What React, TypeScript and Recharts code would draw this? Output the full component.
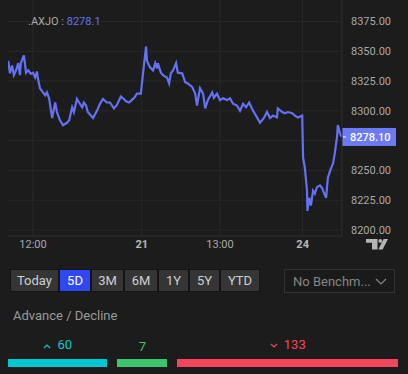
import React from 'react';
import { LineChart, Line, XAxis, YAxis, CartesianGrid, ReferenceLine } from 'recharts';

// trading minutes since the first visible session opened (10:00 on the 20th)
const times = [
  63, 67, 72, 76, 81, 86, 90, 92, 99, 104, 109, 115, 120, 125, 129, 131, 136, 143, 148, 152,
  157, 164, 171, 175, 182, 189, 198, 203, 210, 214, 221, 226, 233, 237, 242, 246, 258, 267, 274, 281,
  290, 297, 306, 313, 322, 327, 334, 341, 350, 355, 359, 368, 373, 375, 380, 382, 389, 396, 401, 405,
  407, 414, 419, 428, 433, 437, 442, 449, 453, 463, 470, 476, 486, 493, 497, 504, 511, 516, 522, 532,
  536, 543, 550, 557, 566, 573, 580, 589, 596, 603, 610, 617, 626, 635, 642, 651, 658, 665, 672, 681,
  683, 693, 699, 706, 716, 722, 729, 739, 741, 745, 750, 751, 755, 759, 764, 768, 773, 780, 785, 787,
  794, 798, 805, 810, 814, 819, 821, 826, 830,
];
const prices = [
  8342, 8331.5, 8338, 8330, 8334, 8340, 8330, 8340, 8346.5, 8332, 8334, 8331, 8332, 8328, 8333, 8328, 8319, 8315.5, 8313, 8315.5,
  8310.5, 8294, 8307, 8299, 8292, 8288, 8290, 8292, 8303, 8299, 8310, 8307, 8303, 8307, 8304.5, 8299, 8294, 8300, 8306, 8310,
  8307, 8307, 8302, 8305, 8312, 8310.5, 8308, 8307, 8310, 8312, 8314.5, 8314.5, 8331.5, 8338, 8354, 8342, 8336.5, 8334, 8340, 8335.5,
  8340, 8332, 8330, 8328, 8323, 8331.5, 8334, 8340, 8332, 8331.5, 8324, 8323, 8320, 8314.5, 8304.5, 8319, 8314.5, 8302, 8309, 8315.5,
  8311, 8314.5, 8309, 8310.5, 8309, 8310.5, 8306, 8304.5, 8300, 8306, 8303, 8307, 8300, 8294.5, 8290, 8294, 8299, 8294, 8296, 8294.5,
  8302, 8299, 8298, 8299, 8298, 8296, 8294.5, 8296, 8261, 8252.5, 8233, 8216, 8227, 8220.5, 8233, 8230.5, 8236, 8237.5, 8235, 8233,
  8227, 8244, 8251.5, 8256, 8264.5, 8278, 8288, 8281, 8278.1,
];

const timeTicks = [120, 370, 550, 740];
const timeLabels = ['12:00', '21', '13:00', '24'];
const dayLabels = ['21', '24'];
const priceTicks = [8200, 8225, 8250, 8275, 8300, 8325, 8350, 8375];

const symbol = '.AXJO';
const lastPrice = 8278.1;

const ranges = ['Today', '5D', '3M', '6M', '1Y', '5Y', 'YTD'];
const rangeWidths = [49, 32, 33, 34, 31, 31, 40];
const activeRange = '5D';

const advances = 60;
const unchanged = 7;
const declines = 133;

const LINE = '#6371f2';
const BG = '#1c1c1c';
const GRID = '#282828';
const TEXT = '#a9a9a9';

const data = times.map((t, i) => ({ t, price: prices[i] }));

const TimeTick = (props: any) => {
  const { x, y, payload } = props;
  const label = timeLabels[timeTicks.indexOf(payload.value)];
  const isDay = dayLabels.includes(label);
  return (
    <text x={x} y={y} dy={8} textAnchor="middle" fontSize={11} fill={isDay ? '#b8b8b8' : TEXT} fontWeight={isDay ? 700 : 400}>
      {label}
    </text>
  );
};

// the last-price tag covers the scale label closest to it
const priceLabel = (v: number) => (Math.abs(v - lastPrice) < 10 ? '' : v.toFixed(2));

const PriceTag = (props: any) => {
  const vb = props.viewBox || {};
  const x = vb.x + vb.width;
  const y = vb.y;
  return (
    <g>
      <rect x={x} y={y - 9} width={54} height={18} fill="#6c7af5" />
      <line x1={x + 1} x2={x + 4} y1={y} y2={y} stroke="#fff" strokeWidth={1} />
      <text x={x + 8} y={y} dy={4} fontSize={11} fill="#fff" fontWeight={500}>
        {lastPrice.toFixed(2)}
      </text>
    </g>
  );
};

const Chevron = ({ color, up }: { color: string; up: boolean }) => (
  <svg width={8} height={6} style={{ marginRight: 6, verticalAlign: 'middle' }}>
    <polyline points={up ? '1,5 4,2 7,5' : '1,1 4,4 7,1'} fill="none" stroke={color} strokeWidth={1.2} />
  </svg>
);

export default function App() {
  return (
    <div
      style={{
        position: 'absolute',
        left: 0,
        top: 0,
        width: 408,
        height: 374,
        background: BG,
        fontFamily: 'Roboto, sans-serif',
        overflow: 'hidden',
      }}
    >
      <div style={{ position: 'absolute', left: 28, top: 15, fontSize: 11, color: TEXT, zIndex: 2 }}>
        {symbol} : <span style={{ color: LINE }}>{lastPrice}</span>
      </div>

      <LineChart width={408} height={260} data={data} margin={{ top: 0, right: 0, left: 8, bottom: 0 }}>
        <CartesianGrid stroke={GRID} horizontalValues={priceTicks} verticalValues={timeTicks} />
        <XAxis
          dataKey="t"
          type="number"
          domain={[62.5, 830.5]}
          ticks={timeTicks}
          tick={<TimeTick />}
          tickSize={0}
          tickMargin={4}
          height={24}
          axisLine={{ stroke: '#2e2e2e' }}
          allowDataOverflow
        />
        <YAxis
          orientation="right"
          type="number"
          domain={[8195, 8393]}
          ticks={priceTicks}
          width={66}
          tickSize={0}
          tickMargin={9}
          tick={{ fontSize: 11, fill: TEXT }}
          tickFormatter={priceLabel}
          axisLine={{ stroke: '#2e2e2e' }}
          allowDataOverflow
        />
        <Line
          type="linear"
          dataKey="price"
          stroke={LINE}
          strokeWidth={2.2}
          dot={false}
          isAnimationActive={false}
        />
        <ReferenceLine y={lastPrice} stroke="none" label={<PriceTag />} />
      </LineChart>

      <svg style={{ position: 'absolute', left: 366, top: 239 }} width={23} height={11}>
        <path d="M0 0 H11.5 V10.5 H6 V3.8 H0 Z" fill="#b5b5b5" />
        <circle cx={14.3} cy={1.9} r={1.9} fill="#b5b5b5" />
        <path d="M17.6 0 H22 L16.6 10.5 H12.3 Z" fill="#b5b5b5" />
      </svg>

      <div style={{ position: 'absolute', left: 10, top: 269, display: 'flex', height: 23 }}>
        {ranges.map((r, i) => (
          <div
            key={r}
            style={{
              width: rangeWidths[i],
              height: 23,
              boxSizing: 'border-box',
              border: '1px solid #141414',
              background: r === activeRange ? '#3047f5' : '#353535',
              color: r === activeRange ? '#ffffff' : '#cfcfcf',
              fontSize: 13,
              display: 'flex',
              alignItems: 'center',
              justifyContent: 'center',
            }}
          >
            {r}
          </div>
        ))}
      </div>

      <div
        style={{
          position: 'absolute',
          left: 284,
          top: 269,
          width: 111,
          height: 24,
          boxSizing: 'border-box',
          border: '1px solid #333',
          background: '#1a1a1a',
          color: '#858585',
          fontSize: 13,
          display: 'flex',
          alignItems: 'center',
          paddingLeft: 8,
        }}
      >
        No Benchm...
        <svg width={12} height={7} style={{ position: 'absolute', left: 90, top: 8 }}>
          <polyline points="1,1 6,6 11,1" fill="none" stroke="#858585" strokeWidth={1.2} />
        </svg>
      </div>

      <div style={{ position: 'absolute', left: 13, top: 308, fontSize: 13, color: '#9a9a9a' }}>Advance / Decline</div>

      <div style={{ position: 'absolute', left: 8, top: 337, width: 390, display: 'flex', gap: 10 }}>
        <div style={{ flex: advances, display: 'flex', flexDirection: 'column', alignItems: 'center' }}>
          <div style={{ color: '#14c8d0', fontSize: 13, height: 18, lineHeight: '16px' }}>
            <Chevron color="#14c8d0" up />
            {advances}
          </div>
          <div style={{ marginTop: 4, width: '100%', height: 8, background: '#00c8d2' }} />
        </div>
        <div style={{ width: 50, display: 'flex', flexDirection: 'column', alignItems: 'center' }}>
          <div style={{ color: '#3cc46e', fontSize: 13, height: 18, lineHeight: '20px' }}>{unchanged}</div>
          <div style={{ marginTop: 4, width: '100%', height: 8, background: '#3cc46e' }} />
        </div>
        <div style={{ flex: declines, display: 'flex', flexDirection: 'column', alignItems: 'center' }}>
          <div style={{ color: '#f5455c', fontSize: 13, height: 18, lineHeight: '16px' }}>
            <Chevron color="#f5455c" up={false} />
            {declines}
          </div>
          <div style={{ marginTop: 4, width: '100%', height: 8, background: '#f5455c' }} />
        </div>
      </div>
    </div>
  );
}
